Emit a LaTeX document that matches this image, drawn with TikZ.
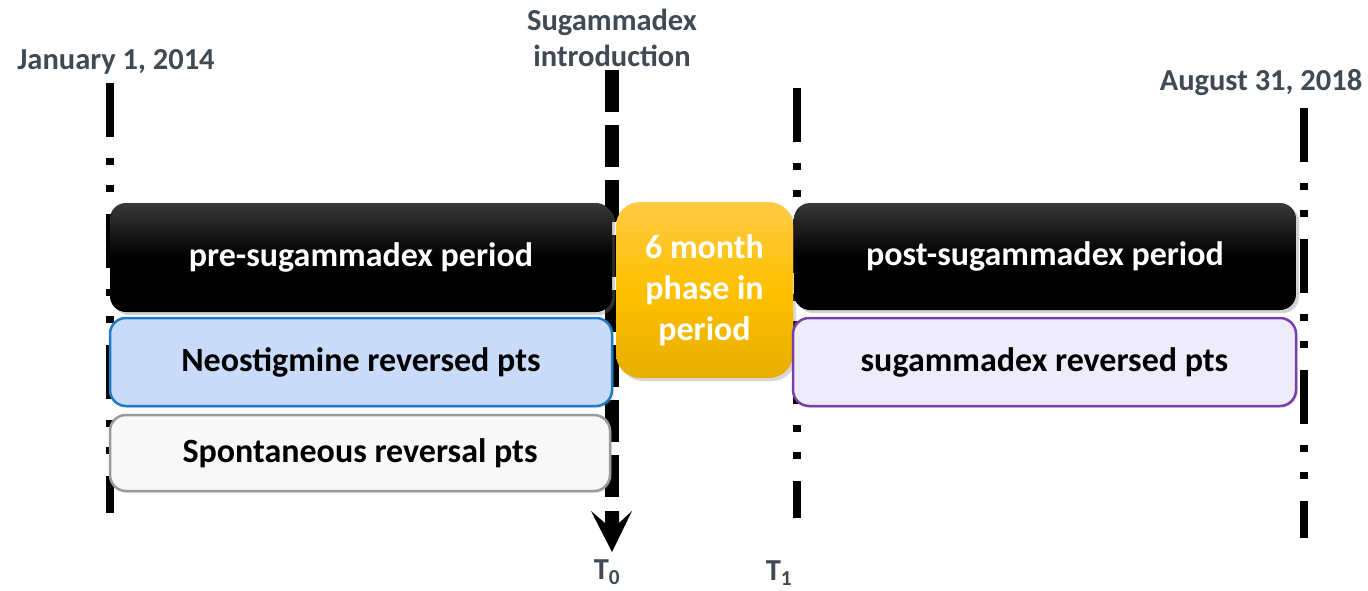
\documentclass[tikz,border=0pt]{standalone}
\usepackage{fontspec}
\setmainfont{Carlito}
\usetikzlibrary{shadows}
\definecolor{lblgray}{HTML}{3F4A54}
\definecolor{bluefill}{HTML}{C9DBF9}
\definecolor{blueedge}{HTML}{1E7BC4}
\definecolor{grayfill}{HTML}{F8F8F8}
\definecolor{grayedge}{HTML}{9A9A9A}
\definecolor{purpfill}{HTML}{EEECFB}
\definecolor{purpedge}{HTML}{7A3FA8}
\definecolor{orgtop}{HTML}{FFCA45}
\definecolor{orgmid}{HTML}{FFC000}
\definecolor{orgbot}{HTML}{E6AE00}
\begin{document}
\begin{tikzpicture}[x=1pt,y=1pt,
  lbl/.style={font=\fontsize{30.5}{36}\selectfont\bfseries, text=lblgray, align=center, inner sep=0pt},
  dashdot/.style={line width=8pt, dash pattern=on 54pt off 21pt on 7pt off 20pt on 7pt off 22pt},
  box/.style={rectangle, rounded corners=16pt, font=\fontsize{34}{40}\selectfont\bfseries, inner sep=0pt},
  blackbox/.style={box, text=white, top color=black!78, bottom color=black, middle color=black,
     drop shadow={opacity=0.35, shadow xshift=3pt, shadow yshift=-3pt}},
  subbox/.style={box, line width=2.5pt, text=black,
     drop shadow={opacity=0.2, shadow xshift=2pt, shadow yshift=-2pt}}
]
\useasboundingbox (0,0) rectangle (1368,-590);
% timeline labels
\node[lbl] (start) at (116,-62) {January 1, 2014};
\node[lbl] (intro) at (612,-38) {Sugammadex\\introduction};
\node[lbl] (end) at (1261,-83) {August 31, 2018};
\node[lbl] (t0) at (607,-572) {T\textsubscript{0}};
\node[lbl] (t1) at (779,-573) {T\textsubscript{1}};
% vertical lines
\coordinate (l1a) at (110,-83);  \coordinate (l1b) at (110,-513);
\coordinate (l2a) at (612,-70);  \coordinate (l2b) at (612,-497);
\coordinate (l3a) at (797,-88);  \coordinate (l3b) at (797,-518);
\coordinate (l4a) at (1304,-108); \coordinate (l4b) at (1304,-538);
\draw[dashdot] (l1a) -- (l1b);
\draw[dashdot] (l3a) -- (l3b);
\draw[dashdot] (l4a) -- (l4b);
\draw[line width=14pt, dash pattern=on 42pt off 13pt] (l2a) -- (l2b);
\fill (591,-511) -- (605,-523) -- (605,-511) -- (619,-511) -- (619,-523) -- (632,-511) -- (612,-552) -- cycle;
% boxes
\node[blackbox, minimum width=502pt, minimum height=109pt] (pre) at (361,-257.5) {pre-sugammadex period};
\node[subbox, draw=blueedge, fill=bluefill, minimum width=502pt, minimum height=88pt] (neo) at (361,-362) {Neostigmine reversed pts};
\node[subbox, draw=grayedge, fill=grayfill, minimum width=500pt, minimum height=76pt] (spon) at (360,-453) {Spontaneous reversal pts};
\node[box, rounded corners=24pt, text=white, top color=orgtop, bottom color=orgbot, middle color=orgmid,
   minimum width=177pt, minimum height=176pt, align=center, font=\fontsize{34}{41}\selectfont\bfseries,
   drop shadow={opacity=0.3, shadow xshift=3pt, shadow yshift=-3pt}] (phase) at (704.5,-290) {6 month\\phase in\\period};
\node[blackbox, minimum width=502pt, minimum height=107pt] (post) at (1045,-256.5) {post-sugammadex period};
\node[subbox, draw=purpedge, fill=purpfill, minimum width=503pt, minimum height=88pt] (sug) at (1044.5,-362) {sugammadex reversed pts};
\end{tikzpicture}
\end{document}
